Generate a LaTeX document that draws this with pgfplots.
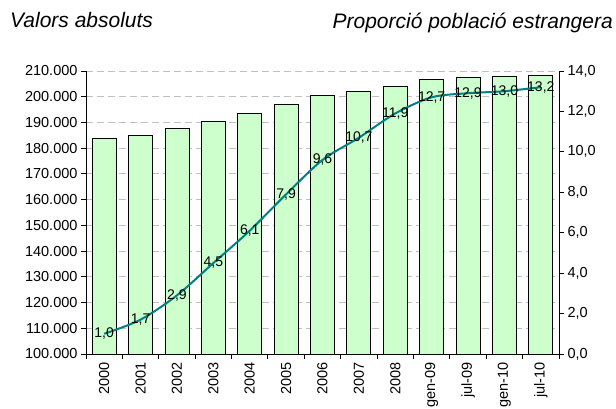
\documentclass[border=0pt]{standalone}
\usepackage{pgfplots}
\pgfplotsset{compat=1.18}
\usepackage{fontspec}
\setmainfont{Liberation Sans}
\definecolor{barfill}{RGB}{204,255,204}
\definecolor{linecol}{RGB}{0,128,128}
\definecolor{gridgray}{RGB}{192,192,192}
\begin{document}
\begin{tikzpicture}[x=1pt,y=1pt]
\pgfplotsset{
  common/.style={
    at={(86pt,55pt)}, anchor=south west, scale only axis,
    width=473pt, height=283pt,
    xmin=-0.5, xmax=12.5,
    tick label style={font=\fontsize{14.5}{17}\selectfont},
    /pgf/number format/assume math mode=true,
    tick align=outside, major tick length=5pt, minor tick length=5pt,
    axis line style={black, line width=0.9pt},
    every tick/.style={black, line width=0.9pt},
  }
}
\begin{axis}[common,
  ymin=100000, ymax=210000,
  ytick={100000,110000,...,210000},
  scaled y ticks=false,
  yticklabel style={/pgf/number format/.cd, fixed, precision=0, 1000 sep={.}},
  axis x line*=bottom, axis y line*=left,
  xtick={0,...,12},
  xticklabels={2000,2001,2002,2003,2004,2005,2006,2007,2008,gen-09,jul-09,gen-10,jul-10},
  xticklabel style={rotate=90, anchor=east},
  major x tick style={draw=none},
  minor xtick={-0.5,0.5,...,12.5},
  ymajorgrids,
  grid style={gridgray, dash pattern=on 7pt off 4pt, line width=0.9pt},
]
\addplot[ybar, bar width=24pt, fill=barfill, draw=black, line width=0.8pt] coordinates {
(0,183800) (1,185100) (2,187600) (3,190600) (4,193400) (5,197000) (6,200500)
(7,202100) (8,203900) (9,206700) (10,207400) (11,207900) (12,208300)};
\end{axis}
\begin{axis}[common,
  ymin=0, ymax=14,
  ytick={0,2,...,14},
  axis y line*=right, axis x line=none,
  yticklabel style={/pgf/number format/.cd, fixed, fixed zerofill, precision=1, use comma},
]
\addplot[linecol, line width=2pt, smooth, tension=0.5,
  nodes near coords, point meta=explicit symbolic,
  every node near coord/.append style={anchor=center, text=black, inner sep=0pt,
    font=\fontsize{14}{16}\selectfont}]
  table[meta=l] {
x y l
0 1.0 1,0
1 1.7 1,7
2 2.9 2,9
3 4.5 4,5
4 6.1 6,1
5 7.9 7,9
6 9.6 9,6
7 10.7 10,7
8 11.9 11,9
9 12.7 12,7
10 12.9 12,9
11 13.0 13,0
12 13.2 13,2
};
\end{axis}
\node[anchor=base west, font=\fontsize{21}{24}\selectfont\itshape, inner sep=0pt] at (10pt,381pt) {Valors absoluts};
\node[anchor=base east, font=\fontsize{21}{24}\selectfont\itshape, inner sep=0pt] at (613pt,380pt) {Proporció població estrangera};
\pgfresetboundingbox
\useasboundingbox (0,0) rectangle (616pt,409pt);
\end{tikzpicture}
\end{document}
